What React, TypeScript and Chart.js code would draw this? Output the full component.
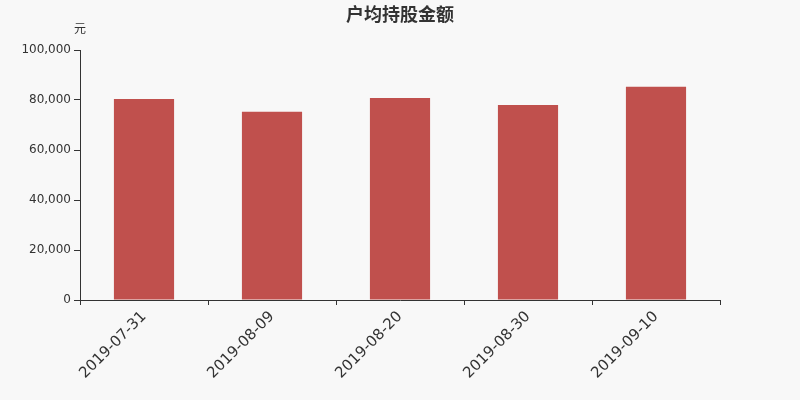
import React, { useEffect, useRef } from "react";
import { Chart, registerables } from "chart.js";

Chart.register(...registerables);

const categories = ["2019-07-31", "2019-08-09", "2019-08-20", "2019-08-30", "2019-09-10"];
const values = [80400, 75300, 80800, 78000, 85300];
const yTicks = [0, 20000, 40000, 60000, 80000, 100000];
const titleText = "户均持股金额";
const unitText = "元";

const FONT = "'DejaVu Sans', 'Noto Sans CJK SC', sans-serif";
const BG = "#f8f8f8";
const AXIS = "#333333";

const decorPlugin = {
  id: "decor",
  beforeDraw(chart: any) {
    const { ctx, width, height } = chart;
    ctx.save();
    ctx.fillStyle = BG;
    ctx.fillRect(0, 0, width, height);
    ctx.restore();
  },
  afterDraw(chart: any) {
    const { ctx, chartArea } = chart;
    ctx.save();
    ctx.fillStyle = AXIS;
    ctx.textAlign = "center";
    ctx.textBaseline = "middle";
    ctx.font = `bold 18px 'Noto Sans CJK SC', ${FONT}`;
    ctx.fillText(titleText, chart.width / 2, 14);
    ctx.font = `12px 'Noto Sans CJK SC', ${FONT}`;
    ctx.fillText(unitText, chartArea.left, 28);
    ctx.restore();
  },
};

export default function App() {
  const ref = useRef<HTMLCanvasElement | null>(null);
  useEffect(() => {
    if (!ref.current) return;
    const chart = new Chart(ref.current, {
      type: "bar",
      data: {
        labels: categories,
        datasets: [
          {
            data: values,
            backgroundColor: "#c0504d",
            barPercentage: 0.47,
            categoryPercentage: 1,
          },
        ],
      },
      options: {
        animation: false,
        responsive: false,
        devicePixelRatio: 1,
        layout: { padding: { top: 50, right: 80, left: 0, bottom: 0 } },
        plugins: {
          legend: { display: false },
          title: { display: false },
          tooltip: { enabled: false },
        },
        scales: {
          x: {
            offset: true,
            grid: {
              offset: true,
              drawOnChartArea: false,
              drawTicks: true,
              tickLength: 5,
              color: AXIS,
            },
            border: { display: true, color: AXIS, width: 1 },
            ticks: {
              color: AXIS,
              font: { family: FONT, size: 15 },
              maxRotation: 45,
              minRotation: 45,
              padding: 3,
            },
            afterFit: (s: any) => {
              s.height = 100;
            },
          },
          y: {
            min: 0,
            max: 100000,
            afterBuildTicks: (s: any) => {
              s.ticks = yTicks.map((v) => ({ value: v }));
            },
            grid: {
              drawOnChartArea: false,
              drawTicks: true,
              tickLength: 6,
              color: AXIS,
            },
            border: { display: true, color: AXIS, width: 1 },
            ticks: {
              color: AXIS,
              font: { family: FONT, size: 12 },
              padding: 3,
              callback: (v: any) => Number(v).toLocaleString("en-US"),
            },
            afterFit: (s: any) => {
              s.width = 80;
            },
          },
        },
      },
      plugins: [decorPlugin],
    });
    return () => chart.destroy();
  }, []);
  return (
    <div style={{ position: "fixed", left: 0, top: 0, width: 800, height: 400, background: BG }}>
      <canvas ref={ref} width={800} height={400} style={{ display: "block" }} />
    </div>
  );
}
